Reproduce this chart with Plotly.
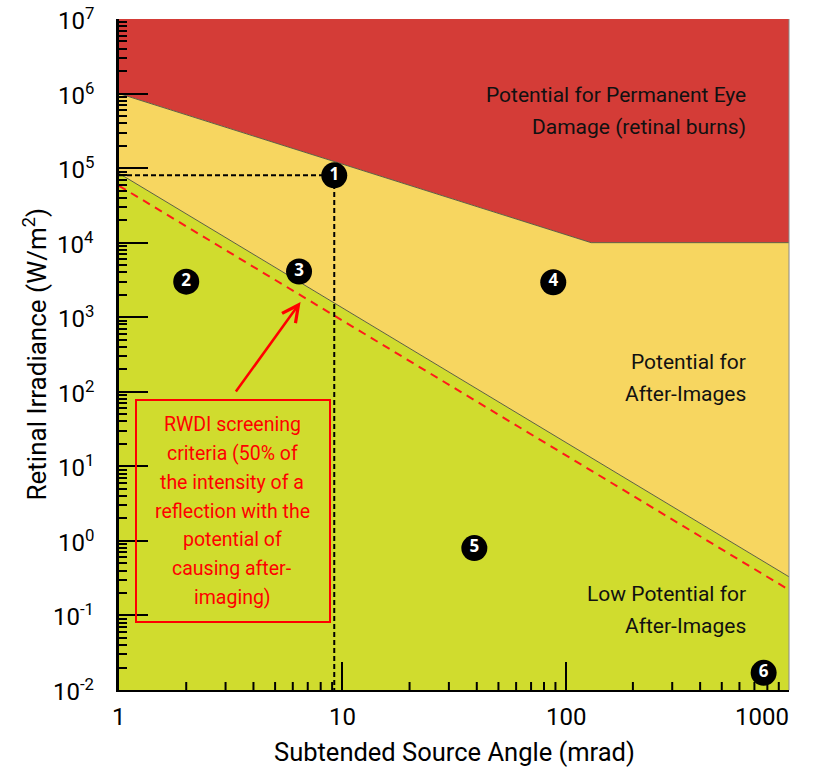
import math
import plotly.graph_objects as go

# Hazard-zone boundaries (subtended source angle in mrad, retinal irradiance in W/m^2)
burn_angle = [1, 130, 1000]
burn_threshold = [1e6, 1e4, 1e4]

afterimage_angle = [1, 1000]
afterimage_threshold = [8.5e4, 0.33]

screening_angle = [1, 1000]
screening_threshold = [5.8e4, 0.22]

x_limits = [1, 1000]
y_limits = [1e-2, 1e7]

# Numbered reflection cases
point_labels = ["1", "2", "3", "4", "5", "6"]
point_angle = [9.2, 2.0, 6.4, 88, 39, 770]
point_irradiance = [8.0e4, 3.0e3, 4.1e3, 2.95e3, 0.8, 0.017]

# Arrow from the screening-criteria note to the dashed line
arrow_tail = (3.3, 96)
arrow_head = (6.5, 1600)

x_tick_values = [1, 10, 100, 1000]
x_tick_text = ["1", "10", "100", "1000"]
y_tick_exponents = [-2, -1, 0, 1, 2, 3, 4, 5, 6, 7]

# Zone captions: (lines, paper y of the first line)
zone_labels = [
    (["Potential for Permanent Eye", "Damage (retinal burns)"], 0.887),
    (["Potential for", "After-Images"], 0.489),
    (["Low Potential for", "After-Images"], 0.143),
]
note_lines = ["RWDI screening", "criteria (50% of", "the intensity of a",
              "reflection with the", "potential of", "causing after-", "imaging)"]

RED = "#d43c37"
YELLOW = "#f7d660"
GREEN = "#d0dc2e"
EDGE = "#5e5e42"
NOTE_RED = "#ff0000"
FONT = "Roboto, Liberation Sans, sans-serif"
PLOT_H = 671  # plot-area height in px, used for spacing in paper units


def minor_positions(lo_exp, hi_exp):
    """Positions 2..9 within each decade between 10**lo_exp and 10**hi_exp."""
    return [m * 10.0 ** d for d in range(lo_exp, hi_exp) for m in range(2, 10)]


fig = go.Figure()

# Red zone: above the burn threshold
fig.add_trace(go.Scatter(
    x=burn_angle + [x_limits[1], x_limits[0]],
    y=burn_threshold + [y_limits[1], y_limits[1]],
    fill="toself", fillcolor=RED, mode="lines", line=dict(width=0),
    hoverinfo="skip", showlegend=False))

# Yellow zone: between burn and after-image thresholds
fig.add_trace(go.Scatter(
    x=burn_angle + afterimage_angle[::-1],
    y=burn_threshold + afterimage_threshold[::-1],
    fill="toself", fillcolor=YELLOW, mode="lines", line=dict(width=0),
    hoverinfo="skip", showlegend=False))

# Green zone: below the after-image threshold
fig.add_trace(go.Scatter(
    x=afterimage_angle + [x_limits[1], x_limits[0]],
    y=afterimage_threshold + [y_limits[0], y_limits[0]],
    fill="toself", fillcolor=GREEN, mode="lines", line=dict(width=0),
    hoverinfo="skip", showlegend=False))

# Zone boundary lines
for xs, ys in [(burn_angle, burn_threshold), (afterimage_angle, afterimage_threshold)]:
    fig.add_trace(go.Scatter(x=xs, y=ys, mode="lines",
                             line=dict(color=EDGE, width=1),
                             hoverinfo="skip", showlegend=False))

# Screening criteria (dashed red)
fig.add_trace(go.Scatter(x=screening_angle, y=screening_threshold, mode="lines",
                         line=dict(color="#ff1a1a", width=2, dash="8px,6px"),
                         hoverinfo="skip", showlegend=False))

# Reference lines through case 1
px, py = point_angle[0], point_irradiance[0]
fig.add_trace(go.Scatter(x=[x_limits[0], px, px], y=[py, py, y_limits[0]], mode="lines",
                         line=dict(color="black", width=2, dash="5px,3px"),
                         hoverinfo="skip", showlegend=False))

# Short minor ticks along the bottom axis (2..9 in each decade), ~8 px tall
px_per_decade = PLOT_H / (math.log10(y_limits[1]) - math.log10(y_limits[0]))
tick_top = 10 ** (math.log10(y_limits[0]) + 8 / px_per_decade)
mx, my = [], []
for v in minor_positions(0, 3):
    mx += [v, v, None]
    my += [y_limits[0], tick_top, None]
fig.add_trace(go.Scatter(x=mx, y=my, mode="lines", line=dict(color="black", width=2),
                         hoverinfo="skip", showlegend=False))

# Numbered case markers
fig.add_trace(go.Scatter(
    x=point_angle, y=point_irradiance, mode="markers+text",
    marker=dict(size=26, color="black"),
    text=[f"<b>{t}</b>" for t in point_labels],
    textposition="middle center",
    textfont=dict(color="white", size=17, family="Open Sans, sans-serif"),
    cliponaxis=False, hoverinfo="skip", showlegend=False))

annotations = []

for lines, ytop in zone_labels:
    for i, line in enumerate(lines):
        annotations.append(dict(
            text=line, xref="paper", yref="paper", x=0.939, y=ytop - i * 32 / PLOT_H,
            xanchor="right", yanchor="middle", align="right", showarrow=False,
            font=dict(family=FONT, size=21, color="#111111")))

# Screening note text, one annotation per line
for i, line in enumerate(note_lines):
    annotations.append(dict(
        text=line, xref="paper", yref="paper", x=0.1694,
        y=(690 - 425) / PLOT_H - i * 28.7 / PLOT_H,
        xanchor="center", yanchor="middle", showarrow=False,
        font=dict(family=FONT, size=19.5, color=NOTE_RED)))

# Arrow to the screening line
annotations.append(dict(
    text="", x=math.log10(arrow_head[0]), y=math.log10(arrow_head[1]),
    ax=math.log10(arrow_tail[0]), ay=math.log10(arrow_tail[1]),
    xref="x", yref="y", axref="x", ayref="y",
    showarrow=True, arrowhead=5, arrowsize=1.3, arrowwidth=2.5,
    arrowcolor=NOTE_RED))

# X tick labels
for val, txt in zip(x_tick_values, x_tick_text):
    annotations.append(dict(
        text=txt, x=math.log10(val), xref="x", y=0, yref="paper",
        yshift=-27, yanchor="middle",
        xanchor="right" if val == x_limits[1] else "center",
        xshift=2 if val == x_limits[1] else 0,
        showarrow=False, font=dict(family=FONT, size=24, color="black")))

# Y tick labels (powers of ten)
for e in y_tick_exponents:
    annotations.append(dict(
        text=f"10<sup>{e}</sup>", x=0, xref="paper", y=e, yref="y",
        xshift=-23, xanchor="right", yanchor="middle",
        showarrow=False, font=dict(family=FONT, size=24, color="black")))

# Axis titles
annotations.append(dict(
    text="Subtended Source Angle (mrad)", xref="paper", yref="paper",
    x=0.5, y=0, yshift=-62, xanchor="center", yanchor="middle", showarrow=False,
    font=dict(family=FONT, size=25.5, color="black")))
annotations.append(dict(
    text="Retinal Irradiance (W/m<sup>2</sup>)", xref="paper", yref="paper",
    x=0, y=0.5, xshift=-84, textangle=-90, xanchor="center", yanchor="middle",
    showarrow=False, font=dict(family=FONT, size=26, color="black")))

shapes = [
    # right edge of the chart area
    dict(type="line", xref="paper", yref="paper", x0=1, x1=1, y0=0, y1=1,
         line=dict(color="#8a8a8a", width=1), layer="above"),
    # frame around the screening note
    dict(type="rect", xref="paper", yref="paper",
         x0=(136 - 119) / 670, x1=(330 - 119) / 670,
         y0=(690 - 622) / PLOT_H, y1=(690 - 400) / PLOT_H,
         line=dict(color=NOTE_RED, width=2), layer="above"),
]

fig.update_layout(
    width=822, height=770,
    margin=dict(l=119, r=33, t=19, b=80),
    paper_bgcolor="white", plot_bgcolor="white",
    showlegend=False,
    annotations=annotations,
    shapes=shapes,
    xaxis=dict(
        type="log", range=[math.log10(x_limits[0]), math.log10(x_limits[1])],
        showgrid=False, zeroline=False, showticklabels=False,
        tickmode="array", tickvals=x_tick_values,
        ticks="inside", ticklen=28, tickwidth=2, tickcolor="black",
        showline=True, linecolor="black", linewidth=2,
        layer="above traces"),
    yaxis=dict(
        type="log", range=[math.log10(y_limits[0]), math.log10(y_limits[1])],
        showgrid=False, zeroline=False, showticklabels=False,
        tickmode="array", tickvals=[10.0 ** e for e in y_tick_exponents],
        ticks="inside", ticklen=29, tickwidth=2, tickcolor="black",
        showline=True, linecolor="black", linewidth=3,
        minor=dict(tickmode="array", tickvals=minor_positions(-2, 7),
                   ticks="inside", ticklen=8, tickwidth=2, tickcolor="black"),
        layer="above traces"),
)

fig.write_html("out.html")
